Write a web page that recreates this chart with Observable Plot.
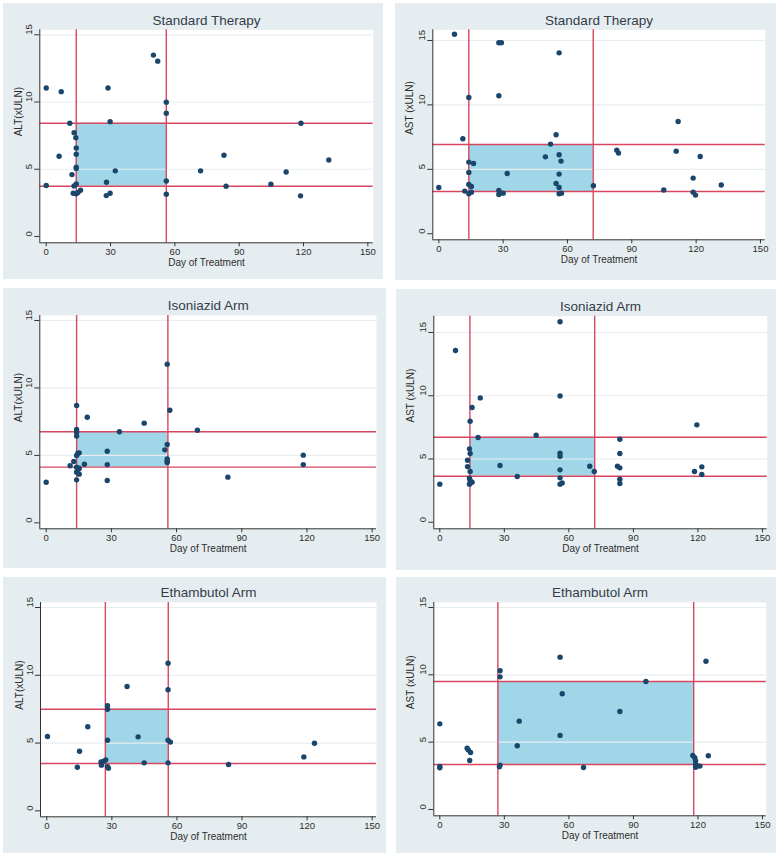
<!DOCTYPE html>
<html>
<head>
<meta charset="utf-8">
<script src="https://cdn.jsdelivr.net/npm/d3@7"></script>
<script src="https://cdn.jsdelivr.net/npm/@observablehq/plot@0.6"></script>
<style>
  html, body { margin: 0; padding: 0; background: #ffffff; }
  #wrap { position: relative; width: 779px; height: 857px; font-family: "Liberation Sans", Arial, sans-serif; }
  .panel { position: absolute; background: #e5edf0; }
  .panel svg { display: block; background: transparent; }
</style>
</head>
<body>
<div id="wrap"></div>
<script>
// ---- text / ticks ----
const armTitles = ["Standard Therapy", "Isoniazid Arm", "Ethambutol Arm"];
const measureLabels = ["ALT(xULN)", "AST (xULN)"];
const xLabel = "Day of Treatment";
const xTicks = [0, 30, 60, 90, 120, 150];
const yTicks = [0, 5, 10, 15];

// ---- reference boxes (days, limits) per arm ----
const altDays = [[14, 56], [14, 56], [27, 56]];
const altLimits = [[3.74, 8.42], [4.13, 6.75], [3.49, 7.5]];
const astDays = [[14, 72], [14, 72], [27, 118]];
const astLimits = [[3.28, 6.93], [3.64, 6.72], [3.34, 9.5]];

// ---- observations [day, xULN] ----
const stdALT = [[0,11.04],[7,10.77],[11,8.42],[6,5.97],[0,3.79],[13,7.72],[13.8,7.35],[14,6.58],[14,6.11],[14,5.15],[14,5.05],[12,4.6],[14,3.91],[13,3.76],[12.6,3.22],[14,3.17],[14.8,3.27],[16,3.44],[50,13.49],[52,13.04],[28.8,11.04],[29.8,8.54],[32.2,4.88],[28.1,4.03],[28,3.04],[29.8,3.22],[56,9.98],[56,9.16],[56,4.13],[56,3.14],[72,4.88],[82.9,6.04],[83.9,3.74],[104.8,3.89],[111.9,4.8],[118.8,8.42],[118.6,3.02],[131.8,5.69]];
const stdAST = [[0,3.59],[7.3,15.49],[11.2,7.37],[12.1,3.31],[14,5.56],[16.2,5.46],[14,4.76],[14,3.83],[15.2,3.67],[14,3.1],[15.2,3.23],[14,10.58],[28,14.82],[29.2,14.82],[28,10.71],[28,3.36],[28,3.05],[30,3.15],[31.9,4.68],[56.1,14.04],[54.7,7.68],[52.1,6.96],[49.7,5.97],[56.1,6.13],[57,5.64],[56.1,4.63],[54.7,3.9],[56.1,3.59],[56.1,3.1],[57.2,3.15],[72.1,3.72],[83,6.49],[83.8,6.26],[104.9,3.39],[111.6,8.71],[110.7,6.41],[121.9,6.0],[118.6,4.32],[118.6,3.23],[119.7,3.0],[131.7,3.78]];
const inhALT = [[0,3.01],[11,4.23],[12.7,4.55],[14,8.7],[14,6.92],[14,6.72],[14,6.43],[14,4.99],[14.6,5.16],[15.2,5.19],[14,4.13],[14.9,3.98],[14,3.76],[15.2,3.61],[14,3.19],[15.2,4.05],[17.6,4.35],[18.9,7.83],[28.1,5.31],[28.1,4.32],[28.1,3.14],[33.7,6.75],[45.1,7.39],[55.7,11.76],[56.9,8.35],[55.7,5.81],[54.6,5.41],[55.7,4.74],[55.7,4.57],[55.7,4.47],[69.6,6.87],[83.6,3.39],[118.3,5.02],[118.3,4.32]];
const inhAST = [[0,3.01],[7.3,13.58],[12.9,4.9],[12.9,4.4],[13.8,5.8],[14.1,5.43],[14.1,4.01],[13.8,3.48],[14.1,3.3],[13.8,3.01],[15,3.16],[14.1,7.99],[15,9.07],[17.8,6.7],[18.8,9.83],[28,4.48],[36,3.61],[44.8,6.88],[55.9,15.85],[55.9,9.99],[55.9,5.46],[55.9,5.22],[55.9,4.14],[55.9,3.51],[55.9,3.01],[56.9,3.11],[69.7,4.43],[71.8,4.01],[82.6,4.43],[83.7,4.3],[83.7,6.56],[83.7,5.43],[83.7,3.4],[83.7,3.06],[119.5,7.7],[118.4,4.01],[121.8,4.38],[121.8,3.77]];
const embALT = [[0.3,5.48],[14.1,3.22],[15.1,4.4],[18.9,6.2],[25,3.61],[25.2,3.37],[26.3,3.66],[27.2,3.76],[28,7.75],[28,7.5],[28,5.21],[28,3.25],[28.4,3.15],[37,9.17],[42.1,5.46],[44.9,3.54],[55.9,10.89],[55.9,8.93],[55.9,5.21],[57,5.07],[55.9,3.54],[83.8,3.42],[118.5,3.98],[123.4,4.99]];
const embAST = [[0,6.36],[0,3.19],[0,3.09],[12.7,4.55],[13.3,4.41],[14.3,4.23],[13.9,3.64],[28,10.3],[28,9.85],[28,3.29],[27.7,3.17],[36,4.73],[36.9,6.56],[55.9,11.31],[55.9,5.5],[56.9,8.59],[66.8,3.12],[83.7,7.28],[95.8,9.5],[117.6,4.01],[118.5,3.84],[118.9,3.61],[118.9,3.34],[118.9,3.14],[119.8,3.24],[120.9,3.22],[123.7,11.01],[124.8,3.99]];

// ---- panel geometry (layout only) ----
const layout = [
  {left:3,   top:3,   w:380, h:276, mL:36.3, mR:10.3, mT:26.3, mB:36.7, xd:[-3,152.5],    yd:[-0.47,15.37], ld:-21},
  {left:395, top:3,   w:381, h:277, mL:37.3, mR:11.3, mT:26.3, mB:40.7, xd:[-2.8,152.2],  yd:[-0.47,15.83], ld:-23},
  {left:3,   top:288, w:383, h:280, mL:36.3, mR:10,   mT:27,   mB:39.7, xd:[-2.94,152],   yd:[-0.44,15.37], ld:-21},
  {left:396, top:289, w:380, h:281, mL:37.3, mR:9.3,  mT:26.7, mB:41.7, xd:[-2.79,152.2], yd:[-0.52,16.29], ld:-23},
  {left:3,   top:577, w:383, h:276, mL:37,   mR:10,   mT:25,   mB:36.7, xd:[-2.9,152],    yd:[-0.44,15.37], ld:-21},
  {left:396, top:577, w:380, h:276, mL:37.3, mR:10.3, mT:25,   mB:37.7, xd:[-2.79,151.7], yd:[-0.47,15.37], ld:-23}
];

const panels = [
  {title: armTitles[0], label: measureLabels[0], data: stdALT, days: altDays[0], lim: altLimits[0]},
  {title: armTitles[0], label: measureLabels[1], data: stdAST, days: astDays[0], lim: astLimits[0]},
  {title: armTitles[1], label: measureLabels[0], data: inhALT, days: altDays[1], lim: altLimits[1]},
  {title: armTitles[1], label: measureLabels[1], data: inhAST, days: astDays[1], lim: astLimits[1]},
  {title: armTitles[2], label: measureLabels[0], data: embALT, days: altDays[2], lim: altLimits[2]},
  {title: armTitles[2], label: measureLabels[1], data: embAST, days: astDays[2], lim: astLimits[2]}
];

const C = {
  box: "#9fd7e9", red: "#d9465f", dot: "#1a466c", grid: "#e6eef1",
  axis: "#333333", text: "#2e2e2e", title: "#353c4a"
};

const wrap = document.getElementById("wrap");
panels.forEach((p, i) => {
  const L = layout[i];
  const div = document.createElement("div");
  div.className = "panel";
  Object.assign(div.style, {left: L.left + "px", top: L.top + "px", width: L.w + "px", height: L.h + "px"});
  const chart = Plot.plot({
    width: L.w, height: L.h,
    marginLeft: L.mL, marginRight: L.mR, marginTop: L.mT, marginBottom: L.mB,
    x: {domain: L.xd},
    y: {domain: L.yd},
    style: {fontFamily: '"Liberation Sans", Arial, sans-serif', background: "transparent", overflow: "visible"},
    marks: [
      Plot.frame({fill: "white", stroke: null}),
      Plot.rect([p], {x1: d => d.days[0], x2: d => d.days[1], y1: d => d.lim[0], y2: d => d.lim[1], fill: C.box}),
      Plot.gridY(yTicks.filter(t => t > 0), {stroke: C.grid, strokeOpacity: 1, strokeWidth: 1.2}),
      Plot.ruleX(p.days, {stroke: C.red, strokeWidth: 1.4}),
      Plot.ruleY(p.lim, {stroke: C.red, strokeWidth: 1.4}),
      Plot.dot(p.data, {x: d => d[0], y: d => d[1], r: 2.7, fill: C.dot, stroke: null}),
      Plot.ruleX([L.xd[0]], {stroke: C.axis, strokeWidth: 1}),
      Plot.ruleY([L.yd[0]], {stroke: C.axis, strokeWidth: 1}),
      Plot.axisX({ticks: xTicks, tickSize: 4, tickPadding: 1, fontSize: 9.5, label: null, stroke: C.axis, fill: C.text}),
      Plot.axisY({ticks: yTicks, tickSize: 5, tickFormat: () => "", label: null, stroke: C.axis}),
      Plot.text(yTicks, {y: d => d, text: d => String(d), frameAnchor: "left", dx: -11, rotate: -90, fontSize: 9.5, fill: C.text}),
      Plot.text([p.label], {text: d => d, frameAnchor: "left", dx: L.ld, rotate: -90, fontSize: 10, fill: C.text}),
      Plot.text([xLabel], {text: d => d, frameAnchor: "bottom", dy: 20, lineAnchor: "middle", fontSize: 10, fill: C.text}),
      Plot.text([p.title], {text: d => d, frameAnchor: "top", dy: -9.5, lineAnchor: "middle", fontSize: 13.5, fill: C.title})
    ]
  });
  div.appendChild(chart);
  wrap.appendChild(div);
});
</script>
</body>
</html>
